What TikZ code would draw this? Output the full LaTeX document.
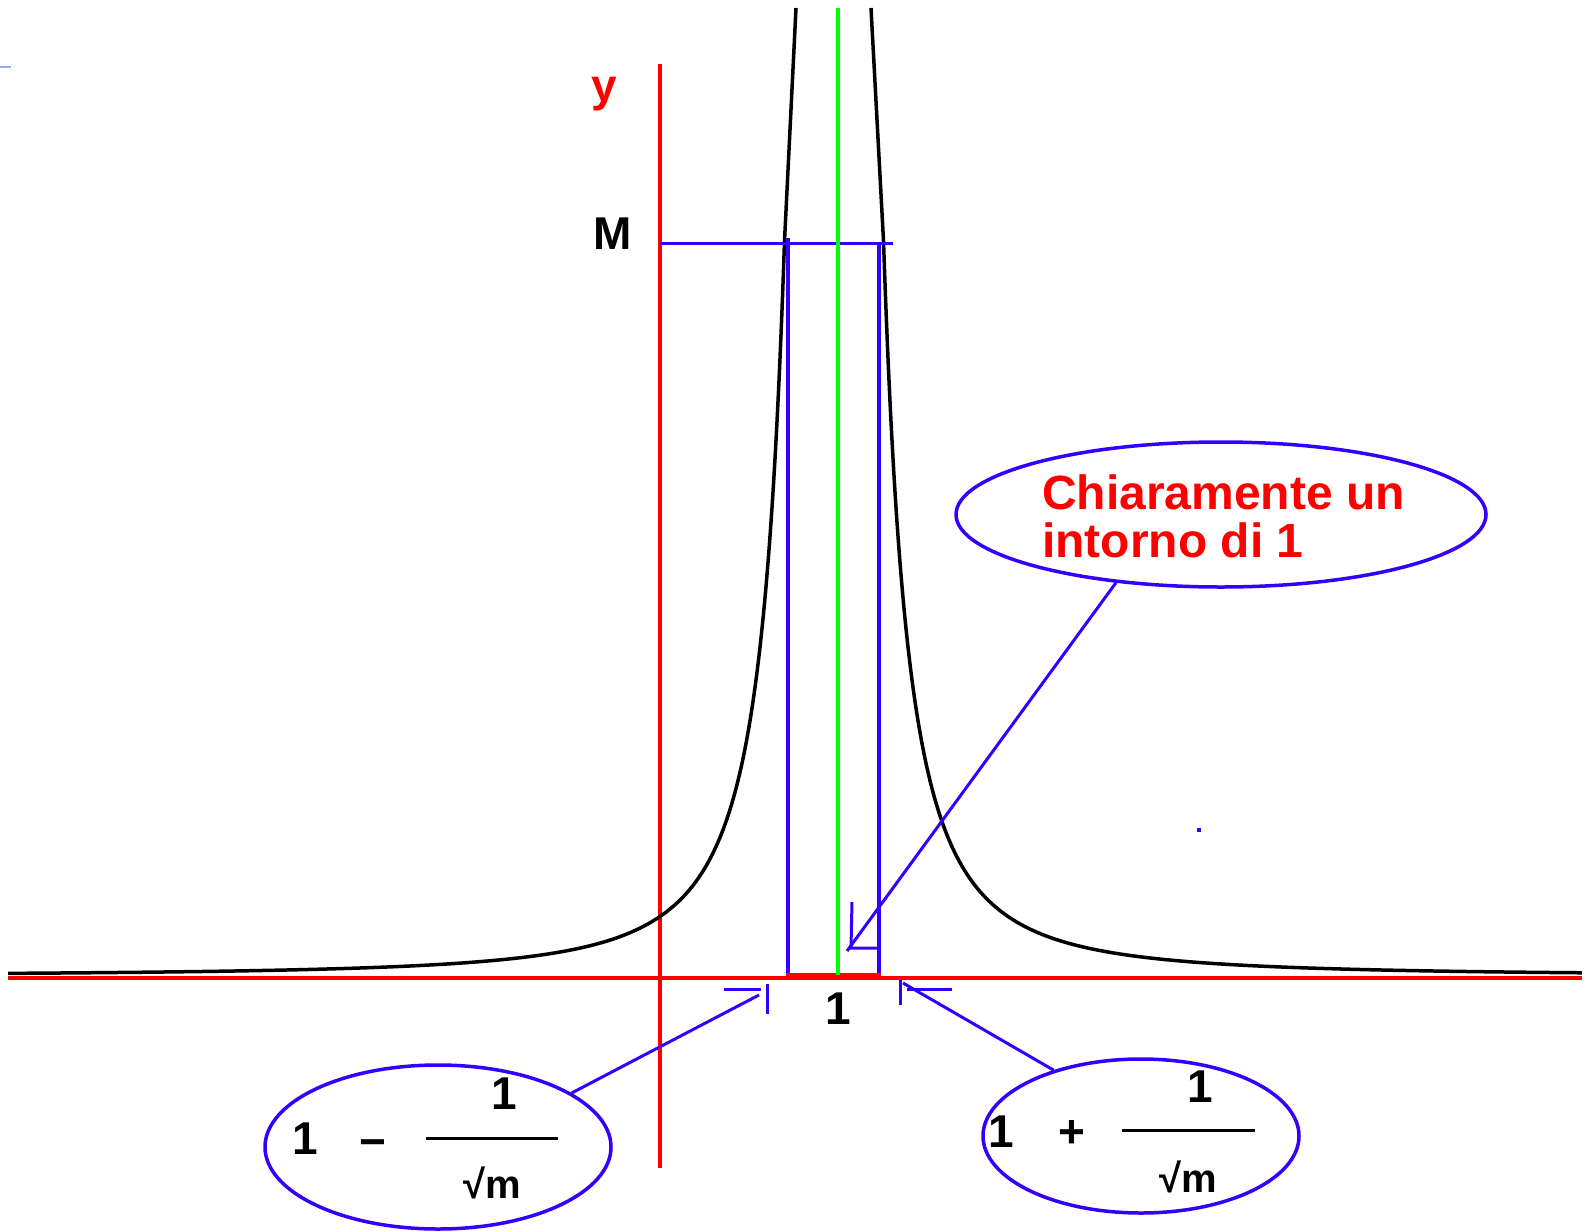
\documentclass[tikz,border=0pt]{standalone}
\usepackage{fontspec}
\setmainfont{Liberation Sans}
\usetikzlibrary{shapes.geometric}
\definecolor{pblue}{RGB}{51,0,255}
\definecolor{pred}{RGB}{255,0,0}
\definecolor{pgreen}{RGB}{0,255,0}
\definecolor{pale}{RGB}{150,170,240}
\tikzset{
  axisline/.style={pred, line width=4pt},
  bline/.style={pblue, line width=3pt},
  curveline/.style={black, line width=3.5pt, line join=round},
  callout/.style={ellipse, draw=pblue, line width=3.5pt, inner sep=0pt},
  lbl/.style={inner sep=0pt, font=\fontsize{46}{48}\selectfont\bfseries},
  smalllbl/.style={inner sep=0pt, font=\fontsize{40}{44}\selectfont\bfseries},
  redtxt/.style={inner sep=0pt, text=pred, font=\fontsize{48}{50}\selectfont\bfseries, anchor=base west},
}
\begin{document}
\begin{tikzpicture}[x=1pt, y=-1pt]
\useasboundingbox (0,0) rectangle (1587,1231);
% stray marks
\draw[pale, line width=2pt] (0,67) -- (11,67);
\fill[pblue] (1197,828) rectangle (1201,832);
% axes
\coordinate (xl) at (8,978);
\coordinate (xr) at (1582,978);
\coordinate (yt) at (660,64);
\coordinate (yb) at (660,1168);
\draw[axisline] (xl) -- (xr);
\draw[axisline] (yt) -- (yb);
% curve
\draw[curveline] (796,8) -- (784.5,241)
  -- plot[domain=0.495:1.6, samples=120] ({834-100*\x},{976-180.09/(\x*\x)})
  -- plot[domain=1.6:8.26, samples=80] ({834-100*\x},{976-180.09/(\x*\x)});
\draw[curveline] (871,8) -- (883.5,241)
  -- plot[domain=0.495:1.6, samples=120] ({834+100*\x},{976-180.09/(\x*\x)})
  -- plot[domain=1.6:7.48, samples=80] ({834+100*\x},{976-180.09/(\x*\x)});
% neighbourhood
\coordinate (ml) at (660,243);
\coordinate (mr) at (893,243);
\coordinate (vl) at (788,238);
\coordinate (vlb) at (788,975);
\coordinate (vr) at (879,243);
\coordinate (vrb) at (879,975);
\draw[bline] (ml) -- (mr);
\draw[pblue, line width=4pt] (vl) -- (vlb);
\draw[pblue, line width=4pt] (vr) -- (vrb);
\draw[pred, line width=7pt] (786,976.5) -- (881,976.5);
\coordinate (gt) at (838,8);
\coordinate (gb) at (838,975);
\draw[pgreen, line width=4pt] (gt) -- (gb);
% labels
\node[inner sep=0pt, text=pred, font=\fontsize{46}{48}\selectfont\bfseries, anchor=base west] (ylab) at (591,101) {y};
\node[lbl, anchor=base west] (mlab) at (593,249) {M};
\node[lbl, anchor=base] (onelab) at (838,1024) {1};
% callout top
\node[callout, minimum width=530pt, minimum height=145pt] (c1) at (1221,514.5) {};
\node[redtxt] (t1) at (1042,509) {Chiaramente un};
\node[redtxt] (t2) at (1042,557) {intorno di 1};
\coordinate (tip1) at (847,951);
\draw[bline] (c1.213) -- (tip1);
\draw[bline] (852,902) -- (851,948) -- (878,948);
% callout left
\node[callout, minimum width=346pt, minimum height=164pt] (c2) at (438,1147) {};
\node[lbl, anchor=base] (l1) at (305,1154) {1};
\node[lbl, anchor=center] (lm) at (373,1149) {−};
\draw[black, line width=3pt] (426,1138) -- (558,1138);
\node[lbl, anchor=base] (lnum) at (504,1109) {1};
\node[smalllbl, anchor=base] (lden) at (492,1198) {√m};
\coordinate (tipL) at (759,995);
\draw[bline] (c2.22) -- (tipL);
\draw[bline] (724,989) -- (761,989);
\draw[bline] (767,984) -- (767,1014);
% callout right
\node[callout, minimum width=316pt, minimum height=154pt] (c3) at (1141,1136) {};
\node[lbl, anchor=base] (r1) at (1001,1147) {1};
\node[lbl, anchor=center] (rp) at (1072,1134) {+};
\draw[black, line width=3pt] (1122,1130) -- (1255,1130);
\node[lbl, anchor=base] (rnum) at (1200,1102) {1};
\node[smalllbl, anchor=base] (rden) at (1188,1192) {√m};
\coordinate (tipR) at (903,983);
\draw[bline] (c3.143) -- (tipR);
\draw[bline] (900,980) -- (900,1005);
\draw[bline] (907,989) -- (952,989);
\end{tikzpicture}
\end{document}
